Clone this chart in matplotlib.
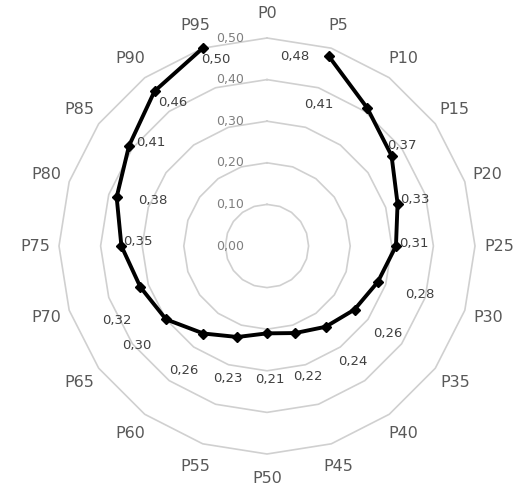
import numpy as np
import matplotlib
matplotlib.use("Agg")
import matplotlib.pyplot as plt

categories = ["P%d" % (5 * i) for i in range(20)]
values = [np.nan, 0.48, 0.41, 0.37, 0.33, 0.31, 0.28, 0.26, 0.24, 0.22,
          0.21, 0.23, 0.26, 0.30, 0.32, 0.35, 0.38, 0.41, 0.46, 0.50]
ticks = [0.0, 0.1, 0.2, 0.3, 0.4, 0.5]
# label offsets in pixels (dx, dy up)
lab_off = [(0, 0), (-34, 0), (-48, 4), (10, 10), (17, 4), (18, 3), (42, -13), (33, -24),
           (27, -35), (13, -43), (3, -46), (-10, -42), (-20, -37), (-29, -26),
           (-24, -33), (16, 5), (36, -3), (22, 3), (18, -11), (13, -11)]

fig = plt.figure(figsize=(5.25, 4.94), dpi=100)
ax = fig.add_axes([0, 0, 1, 1])
S = 416.0
cx, cy = 267, 246
ax.set_xlim(-cx / S, (525 - cx) / S)
ax.set_ylim(-(494 - cy) / S, cy / S)
ax.axis("off")

n = len(categories)
ang = np.deg2rad(90 - np.arange(n) * 360 / n)
for t in ticks[1:]:
    xs = np.append(t * np.cos(ang), t * np.cos(ang[0]))
    ys = np.append(t * np.sin(ang), t * np.sin(ang[0]))
    ax.plot(xs, ys, color="#d0d0d0", lw=1.2, zorder=1)
for t in ticks:
    ax.text(-37 / S, t, ("%.2f" % t).replace(".", ","), color="#7f7f7f",
            fontsize=9, ha="center", va="center", zorder=2)
for c, a in zip(categories, ang):
    ax.text(0.558 * np.cos(a), 0.558 * np.sin(a), c, color="#595959",
            fontsize=11.5, ha="center", va="center")

v = np.array(values)
x = v * np.cos(ang)
y = v * np.sin(ang)
ax.plot(x, y, color="black", lw=2.8, marker="D", ms=5.5, zorder=3)
for i in range(n):
    if np.isnan(v[i]):
        continue
    dx, dy = lab_off[i]
    ax.annotate(("%.2f" % v[i]).replace(".", ","), (x[i], y[i]),
                xytext=(dx, dy), textcoords="offset pixels", ha="center",
                va="center", fontsize=9.5, color="#404040", zorder=4)

fig.savefig("out.png", dpi=100)
